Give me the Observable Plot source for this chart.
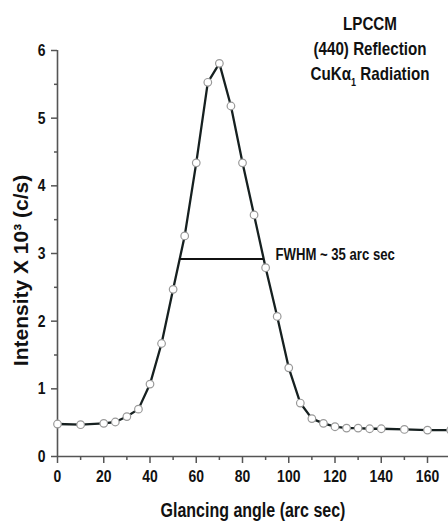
<!DOCTYPE html>
<html><head><meta charset="utf-8">
<script src="https://cdn.jsdelivr.net/npm/d3@7"></script>
<script src="https://cdn.jsdelivr.net/npm/@observablehq/plot@0.6"></script>
<style>
body{margin:0;background:#fff;overflow:hidden}
#wrap{position:relative;width:448px;height:525px}
#title{position:absolute;left:280px;width:180px;top:11px;text-align:center;white-space:nowrap;font-weight:bold;font-size:18.5px;font-family:"Liberation Sans",Arial,sans-serif;line-height:25px;color:#111;transform:scaleX(0.82);transform-origin:50% 0}
#title sub{font-size:11px;line-height:0;vertical-align:-6px}
</style></head><body><div id="wrap"><div id="title">LPCCM<br>(440) Reflection<br>CuKα<sub>1</sub> Radiation</div></div>
<script>
const angle = [0,10,20,25,30,35,40,45,50,55,60,65,70,75,80,85,90,95,100,105,110,115,120,125,130,135,140,150,160,170];
const intensity = [0.48,0.47,0.49,0.51,0.59,0.70,1.07,1.67,2.47,3.26,4.34,5.53,5.81,5.18,4.34,3.57,2.79,2.07,1.31,0.79,0.56,0.49,0.44,0.42,0.42,0.41,0.41,0.40,0.39,0.39];
const xMajorTicks = [0,20,40,60,80,100,120,140,160];
const xMinorTicks = [10,30,50,70,90,110,130,150,170];
const yMajorTicks = [0,1,2,3,4,5,6];
const yMinorTicks = [0.5,1.5,2.5,3.5,4.5,5.5];
const fwhmX = [52.8, 89.2];
const fwhmY = [2.92];
const fwhmLabel = ["FWHM ~ 35 arc sec"];
const fwhmLabelAt = [94.3, 2.98];
const xLabel = "Glancing angle (arc sec)";
const yLabel = "Intensity X 10³ (c/s)";

const data = angle.map((a, i) => ({angle: a, intensity: intensity[i]}));
const font = '"Liberation Sans",Arial,sans-serif';
const axisColor = "#555";

const chart = Plot.plot({
  width: 448, height: 525,
  marginLeft: 57, marginRight: 0, marginTop: 50, marginBottom: 69,
  x: {domain: [0, 160], range: [57, 427], label: null},
  y: {domain: [0, 6], label: null},
  style: {fontFamily: font, fontWeight: "bold", background: "transparent", overflow: "hidden"},
  marks: [
    Plot.ruleY([0], {stroke: axisColor, strokeWidth: 1.6}),
    Plot.ruleX([0], {stroke: axisColor, strokeWidth: 1.6}),
    Plot.axisX(xMajorTicks, {tickSize: 7, tickPadding: 6, stroke: axisColor, strokeWidth: 1.5, fill: "#111", fontSize: 17, tickFormat: d3.format("d")}),
    Plot.axisX(xMinorTicks, {tickSize: 4, stroke: axisColor, strokeWidth: 1.5, tickFormat: () => ""}),
    Plot.axisY(yMajorTicks, {tickSize: 6, tickPadding: 6, stroke: axisColor, strokeWidth: 1.5, fill: "#111", fontSize: 17, tickFormat: d3.format("d")}),
    Plot.axisY(yMinorTicks, {tickSize: 3, stroke: axisColor, strokeWidth: 1.5, tickFormat: () => ""}),
    Plot.line(data, {x: "angle", y: "intensity", stroke: "#162020", strokeWidth: 2.3}),
    Plot.dot(data, {x: "angle", y: "intensity", r: 3.8, fill: "white", stroke: "#999", strokeWidth: 1.2}),
    Plot.ruleY(fwhmY, {x1: fwhmX[0], x2: fwhmX[1], stroke: "#111", strokeWidth: 2}),
    Plot.text(fwhmLabel, {x: fwhmLabelAt[0], y: fwhmLabelAt[1], text: d => d, textAnchor: "start", fontSize: 16, fill: "#111"}),
    Plot.text([xLabel], {frameAnchor: "bottom", text: d => d, textAnchor: "middle", lineAnchor: "top", dy: 47, fontSize: 19.5, fill: "#111"}),
    Plot.text([yLabel], {frameAnchor: "left", text: d => d, textAnchor: "middle", rotate: -90, dx: -36, dy: 17, fontSize: 21, fill: "#111"})
  ]
});
document.getElementById("wrap").prepend(chart);
// the reference figure is horizontally compressed: narrow the horizontal texts
d3.select(chart).selectAll("text").each(function() {
  if (this.textContent === yLabel) return;
  const len = this.getComputedTextLength();
  if (len > 0) {
    this.setAttribute("textLength", (len * 0.82).toFixed(2));
    this.setAttribute("lengthAdjust", "spacingAndGlyphs");
  }
});
</script>
</body></html>
